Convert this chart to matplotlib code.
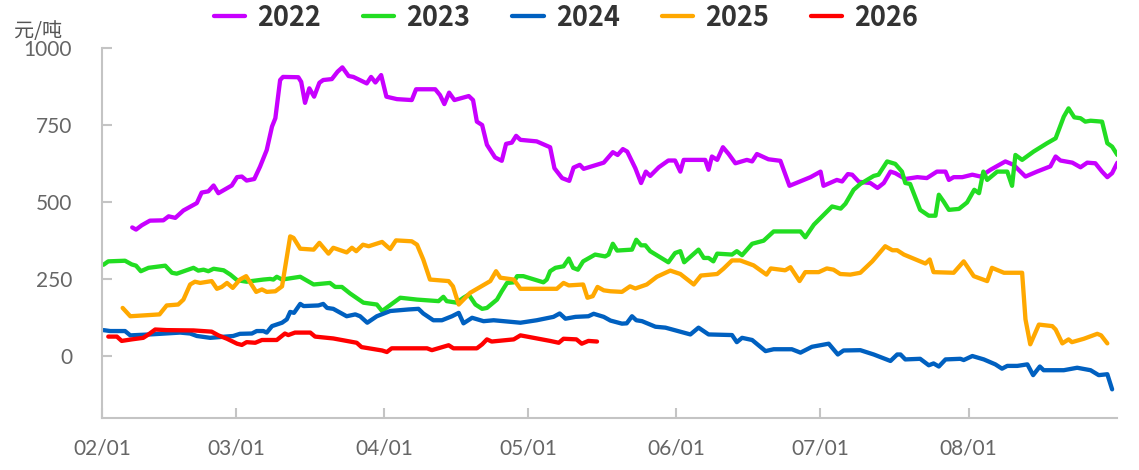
import matplotlib
matplotlib.use("Agg")
import matplotlib.pyplot as plt

plt.rcParams['font.family'] = ['Noto Sans CJK SC', 'DejaVu Sans']

# x = days after 02/01, y = 元/吨
s2022 = [(6.3, 418), (7.1, 411), (8.3, 425), (10.0, 440), (12.8, 441), (13.9, 454), (15.3, 449),
         (17.0, 473), (19.8, 497), (20.8, 531), (22.2, 535), (23.3, 554), (24.3, 529), (27.1, 554),
         (28.2, 581), (29.2, 583), (30.2, 570), (31.8, 575), (33.0, 615), (34.4, 669), (35.5, 745),
         (36.2, 772), (37.2, 896), (37.8, 906), (41.0, 905), (41.6, 890), (42.4, 822), (43.3, 869),
         (44.3, 842), (45.4, 887), (46.2, 896), (48.0, 899), (49.2, 923), (50.2, 937), (51.5, 909),
         (52.5, 906), (55.3, 885), (56.2, 906), (57.1, 888), (58.3, 912), (59.4, 842), (61.6, 834),
         (64.7, 831), (65.6, 866), (69.6, 866), (70.6, 847), (71.5, 818), (72.5, 855), (73.6, 831),
         (76.6, 844), (77.5, 831), (78.3, 761), (79.4, 750), (80.4, 686), (82.1, 645), (83.5, 634),
         (84.4, 689), (85.6, 693), (86.5, 715), (87.4, 702), (90.8, 697), (93.6, 678), (94.5, 610),
         (96.1, 578), (97.6, 569), (98.5, 612), (99.8, 621), (100.6, 608), (104.8, 628), (106.7, 662),
         (107.7, 653), (108.8, 672), (109.7, 664), (111.4, 610), (112.6, 562), (113.6, 599), (114.5, 585),
         (116.3, 613), (118.3, 635), (119.7, 635), (120.8, 599), (121.5, 637), (126.0, 637), (126.7, 605),
         (127.4, 648), (128.5, 637), (129.7, 678), (130.9, 656), (132.3, 626), (134.7, 637), (135.8, 632),
         (136.8, 656), (139.2, 639), (141.7, 634), (143.6, 553), (148.0, 581), (150.1, 599), (150.7, 553),
         (153.5, 572), (154.6, 567), (155.8, 591), (156.7, 589), (158.1, 566), (160.5, 562), (162.0, 546),
         (163.3, 562), (164.7, 599), (165.7, 594), (167.8, 575), (170.3, 581), (172.3, 578), (174.4, 599),
         (176.2, 599), (176.9, 572), (177.9, 581), (179.7, 581), (181.8, 589), (183.5, 583), (185.6, 605),
         (188.7, 632), (190.4, 621), (192.9, 583), (195.3, 599), (198.1, 616), (199.2, 648), (200.2, 635),
         (202.7, 628), (204.4, 613), (205.8, 628), (207.5, 626), (208.9, 599), (210.0, 581), (211.0, 594),
         (212.1, 628)]

s2023 = [(0.3, 297), (1.3, 308), (4.8, 310), (6.2, 298), (7.1, 294), (8.1, 276), (9.7, 287), (13.2, 294),
         (14.6, 271), (15.6, 268), (19.1, 287), (20.1, 278), (21.2, 281), (22.2, 276), (23.3, 284),
         (25.4, 279), (26.8, 265), (28.2, 247), (30.2, 242), (33.7, 249), (35.1, 251), (35.8, 249),
         (36.5, 258), (37.6, 249), (41.4, 258), (44.2, 233), (47.6, 238), (48.7, 225), (50.1, 225),
         (51.8, 204), (54.6, 174), (57.4, 168), (58.5, 147), (62.3, 190), (65.8, 184), (70.3, 179),
         (71.3, 193), (72.0, 179), (74.1, 174), (75.5, 190), (76.6, 200), (78.0, 168), (79.4, 154),
         (80.4, 157), (82.5, 184), (83.5, 211), (84.6, 238), (86.0, 240), (86.7, 260), (88.0, 260),
         (92.2, 240), (92.9, 249), (93.6, 276), (94.7, 287), (96.4, 292), (97.5, 317), (98.4, 287),
         (99.4, 281), (100.5, 308), (103.0, 330), (105.1, 324), (105.8, 330), (106.7, 365), (107.6, 343),
         (110.7, 346), (111.6, 378), (112.6, 360), (113.5, 360), (114.5, 341), (118.3, 305), (119.7, 335),
         (120.8, 341), (121.6, 305), (124.6, 346), (125.7, 319), (126.7, 319), (127.7, 308), (128.5, 333),
         (131.6, 330), (132.6, 341), (133.7, 328), (135.8, 365), (138.2, 375), (140.3, 405), (145.9, 405),
         (146.9, 386), (148.7, 427), (152.5, 486), (154.3, 479), (155.3, 495), (157.0, 540), (158.4, 559),
         (159.8, 572), (161.2, 585), (162.2, 589), (164.0, 632), (165.7, 624), (167.1, 599), (167.8, 562),
         (168.8, 559), (170.9, 475), (172.7, 456), (174.1, 456), (174.8, 524), (175.8, 502), (176.9, 475),
         (179.0, 478), (180.7, 499), (182.2, 540), (183.2, 529), (184.1, 599), (184.9, 572), (187.0, 599),
         (189.1, 599), (190.1, 553), (190.8, 653), (192.2, 637), (194.6, 664), (197.4, 691), (199.2, 707),
         (200.9, 777), (201.9, 804), (203.1, 775), (204.4, 772), (205.4, 761), (206.5, 764), (208.9, 761),
         (210.0, 691), (211.0, 680), (212.1, 653)]

s2024 = [(0.3, 85), (1.7, 82), (4.8, 82), (5.9, 68), (10.0, 71), (16.3, 77), (18.4, 74), (19.8, 66),
         (22.6, 60), (27.4, 66), (28.8, 73), (31.3, 74), (32.3, 82), (33.7, 82), (34.4, 77), (35.5, 98),
         (37.6, 109), (38.6, 120), (39.3, 144), (40.1, 141), (41.4, 170), (42.1, 163), (45.2, 165),
         (46.2, 170), (47.0, 157), (48.3, 154), (51.1, 130), (52.9, 136), (53.9, 130), (55.4, 109),
         (57.4, 130), (60.2, 147), (64.0, 152), (66.1, 154), (67.1, 139), (69.2, 117), (71.0, 117),
         (73.1, 130), (74.5, 141), (75.5, 107), (77.3, 125), (79.7, 114), (81.8, 117), (87.4, 109),
         (90.8, 117), (94.3, 128), (95.6, 139), (96.8, 122), (98.9, 128), (101.6, 130), (102.7, 138),
         (104.8, 128), (106.2, 116), (108.6, 106), (109.6, 107), (110.7, 130), (111.6, 117), (112.8, 114),
         (115.6, 96), (117.7, 93), (122.9, 71), (124.6, 93), (126.7, 71), (131.6, 69), (132.6, 46),
         (133.7, 60), (135.8, 53), (138.6, 17), (140.3, 23), (144.1, 23), (145.9, 12), (148.3, 31),
         (151.8, 41), (153.7, 6), (154.9, 19), (158.4, 20), (161.2, 6), (164.7, -15), (166.1, 6),
         (166.8, 6), (167.8, -10), (170.9, -8), (172.7, -29), (173.7, -23), (174.8, -33), (176.2, -10),
         (179.3, -8), (180.0, -12), (181.8, 1), (184.2, -10), (186.6, -26), (188.0, -40), (189.1, -31),
         (191.2, -31), (193.3, -26), (194.5, -61), (195.9, -33), (196.7, -45), (200.9, -45), (203.7, -37),
         (206.5, -45), (208.2, -61), (210.0, -58), (211.0, -107)]

s2025 = [(4.3, 157), (5.9, 130), (10.0, 134), (12.0, 136), (13.5, 165), (15.9, 168), (17.0, 184),
         (18.4, 233), (19.4, 242), (20.5, 238), (22.9, 244), (24.0, 219), (25.0, 225), (26.1, 238),
         (27.3, 222), (28.8, 249), (30.1, 260), (32.2, 209), (33.4, 217), (34.4, 209), (36.2, 211),
         (37.6, 227), (39.3, 389), (40.0, 384), (41.4, 349), (44.2, 346), (45.4, 368), (47.3, 333),
         (48.3, 352), (51.1, 337), (52.2, 352), (53.1, 341), (54.5, 362), (55.7, 357), (58.5, 371),
         (59.5, 357), (60.2, 348), (61.4, 376), (64.7, 373), (65.8, 362), (67.1, 314), (68.5, 249),
         (72.4, 244), (73.3, 227), (74.5, 168), (76.9, 206), (81.1, 244), (82.3, 276), (83.2, 255),
         (86.0, 249), (87.4, 219), (95.0, 219), (96.4, 238), (97.5, 230), (100.5, 233), (101.4, 190),
         (102.5, 195), (103.5, 225), (104.8, 214), (106.2, 211), (108.6, 209), (110.3, 227), (111.4, 220),
         (113.8, 233), (115.9, 258), (118.7, 278), (120.8, 267), (123.6, 233), (125.1, 262), (128.5, 267),
         (129.8, 284), (131.6, 311), (133.3, 311), (136.1, 295), (138.8, 265), (139.7, 285), (142.7, 279),
         (143.8, 289), (145.7, 244), (146.9, 273), (149.7, 273), (151.4, 285), (152.8, 281), (154.2, 267),
         (156.3, 265), (158.4, 271), (160.9, 308), (163.6, 357), (165.1, 344), (166.1, 344), (167.5, 330),
         (170.9, 308), (172.0, 301), (172.9, 314), (173.7, 273), (177.9, 271), (180.0, 308), (182.1, 260),
         (184.9, 244), (185.9, 287), (188.4, 271), (192.2, 271), (192.9, 120), (193.9, 39), (195.7, 103),
         (198.5, 98), (199.2, 87), (200.6, 42), (201.9, 55), (202.6, 46), (205.1, 57), (207.9, 73),
         (208.7, 68), (210.0, 42)]

s2026 = [(1.3, 64), (3.1, 64), (4.1, 50), (6.2, 55), (8.6, 60), (9.7, 71), (11.1, 87), (13.5, 85),
         (19.1, 84), (22.9, 80), (24.3, 68), (26.1, 57), (28.2, 41), (29.2, 37), (30.2, 46), (32.0, 44),
         (33.4, 53), (36.5, 53), (38.2, 74), (38.9, 69), (40.3, 77), (43.5, 77), (44.5, 64), (48.3, 58),
         (51.8, 48), (53.2, 44), (54.2, 30), (58.5, 19), (59.5, 14), (60.5, 26), (67.9, 26), (68.9, 20),
         (72.4, 36), (73.4, 26), (78.3, 26), (79.4, 39), (80.4, 55), (81.4, 48), (86.0, 55), (87.4, 68),
         (93.6, 50), (95.4, 44), (96.4, 57), (99.1, 55), (100.2, 41), (101.6, 50), (103.4, 48)]

series_names = ['2022', '2023', '2024', '2025', '2026']
series_data = [s2022, s2023, s2024, s2025, s2026]
colors = ['#C800FF', '#22DD22', '#0060C0', '#FFA800', '#FF0000']

tick_days = [0, 28, 59, 89, 120, 150, 181]
tick_labels = ['02/01', '03/01', '04/01', '05/01', '06/01', '07/01', '08/01']
y_ticks = [0, 250, 500, 750, 1000]

fig = plt.figure(figsize=(11.39, 4.70), dpi=100)
ax = fig.add_axes([0.0896, 0.1106, 0.891, 0.7874])

for name, data, c in zip(series_names, series_data, colors):
    xs = [p[0] for p in data]
    ys = [p[1] for p in data]
    ax.plot(xs, ys, color=c, lw=3.1, label=name, solid_joinstyle='round', solid_capstyle='round')

ax.set_xlim(0, 212)
ax.set_ylim(-200, 1000)
ax.set_xticks(tick_days)
ax.set_xticklabels(tick_labels)
ax.set_yticks(y_ticks)

for side in ['top', 'right']:
    ax.spines[side].set_visible(False)
for side in ['left', 'bottom']:
    ax.spines[side].set_color('#c4c4c4')
    ax.spines[side].set_linewidth(1.5)

ax.tick_params(axis='both', direction='in', length=7, width=1.5, color='#c4c4c4',
               labelcolor='#666666')
ax.tick_params(axis='y', pad=21.5)
ax.tick_params(axis='x', pad=15)
for lbl in ax.get_xticklabels() + ax.get_yticklabels():
    lbl.set_fontfamily(['Lato', 'DejaVu Sans'])
    lbl.set_fontweight('normal')
    lbl.set_fontsize(15)

fig.text(0.012, 0.933, '元/吨', fontsize=14.5, color='#555555', va='center')

leg = fig.legend(loc='center', bbox_to_anchor=(0.497, 0.962), ncol=5, frameon=False,
                 handlelength=1.15, handletextpad=0.45, columnspacing=1.55, borderaxespad=0,
                 prop={'family': ['Noto Sans CJK SC', 'DejaVu Sans'], 'size': 19.5, 'weight': 'bold'})
for t in leg.get_texts():
    t.set_color('#333333')

fig.savefig('out.png', dpi=100)
